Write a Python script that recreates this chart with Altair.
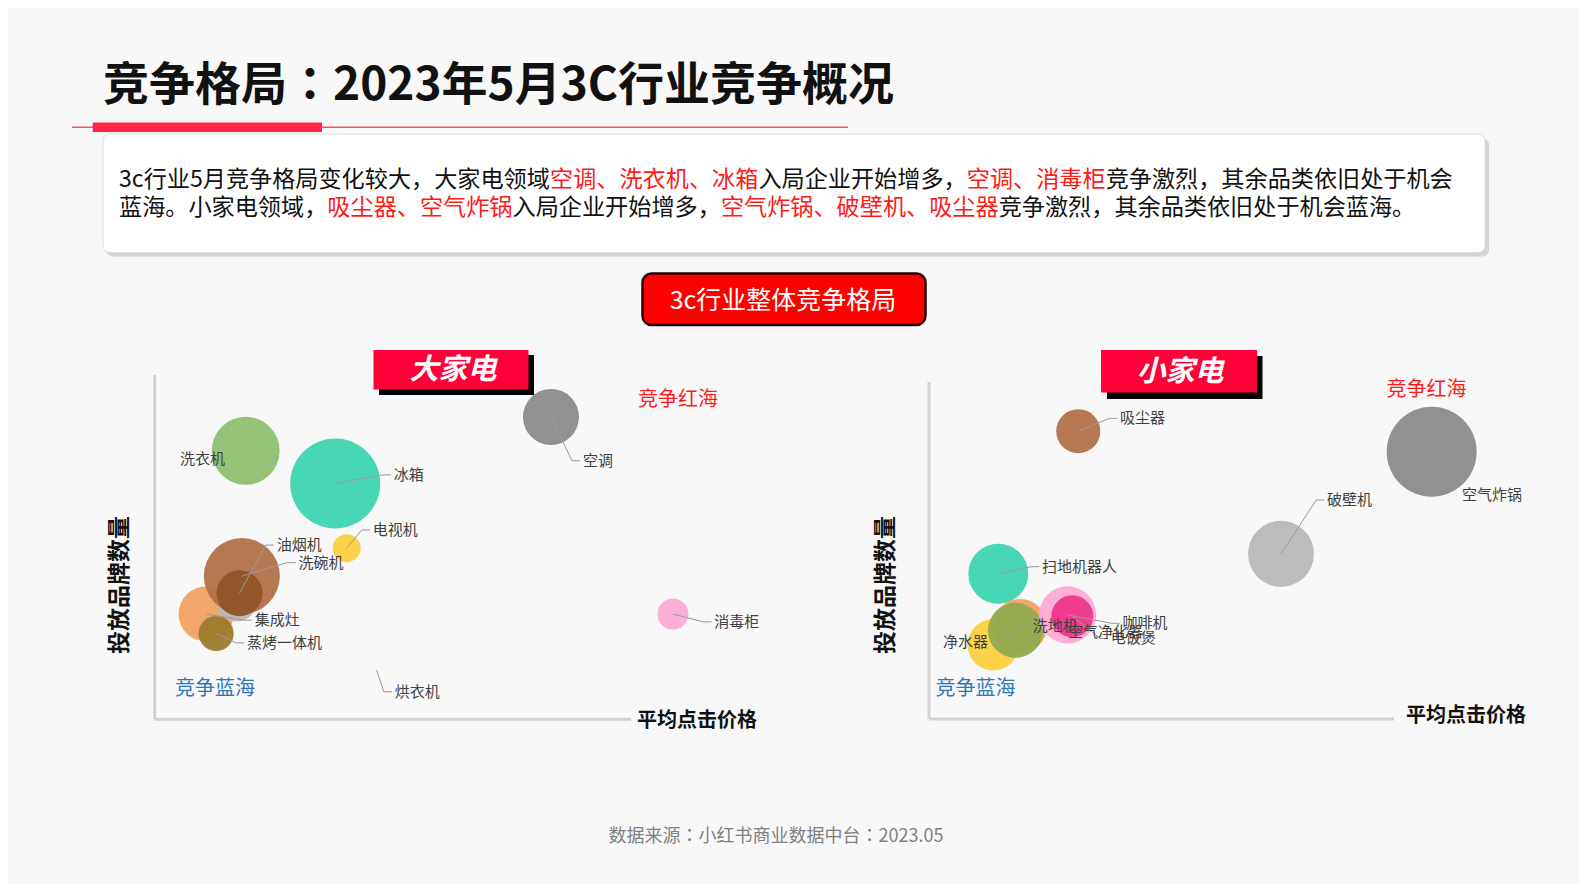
import altair as alt
import pandas as pd

# ---------------- data ----------------
# 大家电 (large appliances): x = 平均点击价格 (index), y = 投放品牌数量 (index), volume = bubble size
big_names = ["空调", "洗衣机", "冰箱", "电视机", "集成灶", "其他", "洗碗机", "油烟机", "蒸烤一体机", "烘衣机", "消毒柜"]
big_price = [83.2, 19.1, 37.9, 40.3, 10.8, 17.2, 18.3, 17.8, 12.9, 46.6, 108.8]
big_brands = [87.8, 78.0, 68.5, 49.7, 30.6, 34.2, 41.6, 36.6, 24.9, 14.3, 30.6]
big_volume = [31.4, 46.2, 81.0, 7.8, 30.3, 16.0, 57.8, 21.2, 12.3, 0.0, 9.6]

# 小家电 (small appliances)
small_names = ["吸尘器", "空气炸锅", "破壁机", "扫地机器人", "洗地机", "空气净化器", "净水器", "咖啡机", "电饭煲"]
small_price = [32.1, 108.1, 75.7, 14.9, 13.8, 19.6, 18.6, 29.8, 30.8]
small_brands = [85.4, 79.3, 49.0, 43.1, 22.0, 27.6, 26.3, 30.9, 30.5]
small_volume = [19.4, 81.0, 43.6, 36.0, 26.4, 29.2, 30.3, 32.7, 17.6]

title_parts = ["竞争格局", "：", "2023年5月3C行业竞争概况"]
para_line1 = [("3c行业5月竞争格局变化较大，大家电领域", "k"), ("空调、洗衣机、冰箱", "r"),
              ("入局企业开始增多，", "k"), ("空调、消毒柜", "r"), ("竞争激烈，其余品类依旧处于机会", "k")]
para_line2 = [("蓝海。小家电领域，", "k"), ("吸尘器、空气炸锅", "r"), ("入局企业开始增多，", "k"),
              ("空气炸锅、破壁机、吸尘器", "r"), ("竞争激烈，其余品类依旧处于机会蓝海。", "k")]
button_text = "3c行业整体竞争格局"
source_text = "数据来源：小红书商业数据中台：2023.05"

# ---------------- styles / layout ----------------
FONT = "Noto Sans CJK SC"
FONT_TC = "Noto Sans CJK TC"
P = 8  # page margin
W, H = 1571, 876

colors = {
    "空调": "#8a8a8a", "洗衣机": "#8dbf6e", "冰箱": "#3dd5b0", "电视机": "#fccf3e",
    "集成灶": "#f2a060", "其他": "#b8b8b8", "洗碗机": "#b07048", "油烟机": "#8e5528",
    "蒸烤一体机": "#9b7a2a", "烘衣机": "#cccccc", "消毒柜": "#ffaad4",
    "吸尘器": "#b07048", "空气炸锅": "#8a8a8a", "破壁机": "#b8b8b8", "扫地机器人": "#3dd5b0",
    "洗地机": "#fccf3e", "空气净化器": "#f2a060", "净水器": "#8fab4e", "咖啡机": "#ffaad4",
    "电饭煲": "#f0348c",
}

# label anchor (in data units) and whether a leader line is drawn
big_labels = {
    "空调": (89.9, 75.1, True), "洗衣机": (5.3, 75.6, False), "冰箱": (50.2, 71.0, True),
    "电视机": (45.8, 55.0, True), "油烟机": (25.6, 50.6, True), "洗碗机": (30.2, 45.5, True),
    "集成灶": (21.0, 28.8, True), "蒸烤一体机": (19.4, 22.2, True), "烘衣机": (50.4, 8.0, True),
    "消毒柜": (117.5, 28.3, True),
}
small_labels = {
    "吸尘器": (41.1, 89.2, True), "空气炸锅": (114.6, 66.5, False), "破壁机": (85.6, 65.0, True),
    "扫地机器人": (24.3, 45.2, True), "洗地机": (22.3, 27.6, True), "空气净化器": (29.9, 25.9, False),
    "咖啡机": (41.6, 28.4, True), "电饭煲": (39.1, 23.9, True), "净水器": (3.0, 22.9, False),
}

ONE = pd.DataFrame({"a": [0]})


def rect(x1, y1, x2, y2, **kw):
    return alt.Chart(ONE).mark_rect(**kw).encode(
        x=alt.value(x1 - P), x2=alt.value(x2 - P), y=alt.value(y1 - P), y2=alt.value(y2 - P))


def rule(x1, y1, x2, y2, **kw):
    return alt.Chart(ONE).mark_rule(**kw).encode(
        x=alt.value(x1 - P), x2=alt.value(x2 - P), y=alt.value(y1 - P), y2=alt.value(y2 - P))


def text(x, y, s, **kw):
    kw.setdefault("font", FONT)
    kw.setdefault("baseline", "middle")
    return alt.Chart(ONE).mark_text(text=s, **kw).encode(x=alt.value(x - P), y=alt.value(y - P))


def char_w(c, fs):
    if ord(c) > 0x2E80:
        return fs
    if c == "c":
        return fs * 0.50
    return fs * 0.56


def para(segs, x0, y, fs):
    rows = []
    x = x0
    for s, col in segs:
        rows.append({"px": x - P, "py": y - P, "t": s, "c": "#ff1a1a" if col == "r" else "#111111"})
        x += sum(char_w(c, fs) for c in s)
    return alt.Chart(pd.DataFrame(rows)).mark_text(
        font=FONT, fontSize=fs, align="left", baseline="middle").encode(
        x=alt.X("px:Q", scale=None), y=alt.Y("py:Q", scale=None),
        text="t:N", color=alt.Color("c:N", scale=None))


def panel(names, price, brands, volume, labels, xr, yr):
    df = pd.DataFrame({"name": names, "price": price, "brands": brands, "volume": volume})
    df["idx"] = range(len(df))
    df["color"] = [colors[n] for n in names]
    xs = alt.Scale(domain=[0, 100], range=[xr[0] - P, xr[1] - P], nice=False, zero=False)
    ys = alt.Scale(domain=[0, 100], range=[yr[0] - P, yr[1] - P], nice=False, zero=False)
    # Vega circle radius = sqrt(size)/2, so volume 100 -> radius 50 px
    bubbles = alt.Chart(df).mark_circle(opacity=0.94).encode(
        x=alt.X("price:Q", scale=xs, axis=None),
        y=alt.Y("brands:Q", scale=ys, axis=None),
        size=alt.Size("volume:Q", scale=alt.Scale(domain=[0, 100], range=[0, 10000]), legend=None),
        color=alt.Color("color:N", scale=None),
        order=alt.Order("idx:Q"),
    )
    lab_rows, lead_rows = [], []
    centers = dict(zip(names, zip(price, brands)))
    for n, (lx, ly, lead) in labels.items():
        lab_rows.append({"name": n, "lx": lx, "ly": ly})
        if lead:
            cx, cy = centers[n]
            pts = [(cx, cy), (lx - 2.3, ly), (lx - 0.6, ly)]
            for k, (px, py) in enumerate(pts):
                lead_rows.append({"name": n, "k": k, "lx": px, "ly": py})
    leaders = alt.Chart(pd.DataFrame(lead_rows)).mark_line(color="#9a9a9a", strokeWidth=1).encode(
        x=alt.X("lx:Q", scale=xs, axis=None), y=alt.Y("ly:Q", scale=ys, axis=None),
        detail="name:N", order="k:Q")
    labs = alt.Chart(pd.DataFrame(lab_rows)).mark_text(
        font=FONT, fontSize=15, color="#404040", align="left", baseline="middle").encode(
        x=alt.X("lx:Q", scale=xs, axis=None), y=alt.Y("ly:Q", scale=ys, axis=None), text="name:N")
    return [bubbles, leaders, labs]


layers = []
# title (the colon uses the TC face so that it sits centred in its cell, as in the reference)
TFS = 46
tx = 103
layers.append(text(tx, 86, title_parts[0], fontSize=TFS, fontWeight="bold", color="#111111", align="left"))
layers.append(text(tx + 4 * TFS, 86, title_parts[1], font=FONT_TC, fontSize=TFS, fontWeight="bold",
                   color="#111111", align="left"))
layers.append(text(tx + 5 * TFS, 86, title_parts[2], fontSize=TFS, fontWeight="bold", color="#111111", align="left"))
layers.append(rule(72, 127.3, 848, 127.3, color="#ff4d5e", strokeWidth=1.5))
layers.append(rect(92.7, 122.5, 322, 132, color="#ff2443"))
# text box
layers.append(rect(106, 138, 1489, 256.5, color="#c4c4c4", cornerRadius=7, opacity=0.7))
layers.append(rect(103, 134, 1485, 252.5, color="#ffffff", cornerRadius=7, stroke="#dedede", strokeWidth=1))
layers.append(para(para_line1, 119, 179.5, 23.15))
layers.append(para(para_line2, 119, 208, 23.15))
# button
layers.append(rect(642.5, 273.5, 925.5, 325, color="#ff0000", cornerRadius=9, stroke="#2a0000", strokeWidth=2.5))
layers.append(text(783, 300.5, button_text, fontSize=25, color="#ffffff", align="center"))
# banners
layers.append(rect(379, 355, 534, 395, color="#000000"))
layers.append(rect(373.5, 350, 528.5, 389.5, color="#ff0038"))
layers.append(text(453, 370, "大家电", fontSize=29, fontWeight="bold", fontStyle="italic", color="#ffffff", align="center"))
layers.append(rect(1107, 356, 1262.5, 399, color="#000000"))
layers.append(rect(1101, 350, 1257, 392.5, color="#ff0038"))
layers.append(text(1180, 371.5, "小家电", fontSize=29, fontWeight="bold", fontStyle="italic", color="#ffffff", align="center"))

# axes (left)
layers.append(rule(154.7, 375, 154.7, 719.3, color="#d2d2d2", strokeWidth=3))
layers.append(rule(154.7, 719.3, 631, 719.3, color="#d2d2d2", strokeWidth=3))
layers.append(text(120, 585, "投放品牌数量", fontSize=23, fontWeight="bold", color="#111111", align="center", angle=270))
layers.append(text(697, 720.5, "平均点击价格", fontSize=20, fontWeight="bold", color="#111111", align="center"))
layers.append(text(678, 400, "竞争红海", fontSize=20, color="#ff1a1a", align="center"))
layers.append(text(215, 689, "竞争蓝海", fontSize=20, color="#2e75b6", align="center"))
# axes (right)
layers.append(rule(929, 382, 929, 719, color="#d2d2d2", strokeWidth=3))
layers.append(rule(929, 719, 1394, 719, color="#d2d2d2", strokeWidth=3))
layers.append(text(886, 585, "投放品牌数量", fontSize=23, fontWeight="bold", color="#111111", align="center", angle=270))
layers.append(text(1466, 716, "平均点击价格", fontSize=20, fontWeight="bold", color="#111111", align="center"))
layers.append(text(1426.5, 390, "竞争红海", fontSize=20, color="#ff1a1a", align="center"))
layers.append(text(975.5, 689, "竞争蓝海", fontSize=20, color="#2e75b6", align="center"))

# bubble panels
layers += panel(big_names, big_price, big_brands, big_volume, big_labels, (154.7, 631), (719.3, 375))
layers += panel(small_names, small_price, small_brands, small_volume, small_labels, (929, 1394), (719, 382))

# footer
layers.append(text(776, 837, source_text, font=FONT_TC, fontSize=18, color="#808080", align="center"))

chart = alt.layer(*layers).resolve_scale(
    x="independent", y="independent", size="independent", color="independent"
).properties(
    width=W, height=H, padding=0, autosize=alt.AutoSizeParams(type="none"), background="#f8f8f8"
).configure_view(stroke=None)

chart.save("out.html", embed_options={"renderer": "svg", "actions": False})
